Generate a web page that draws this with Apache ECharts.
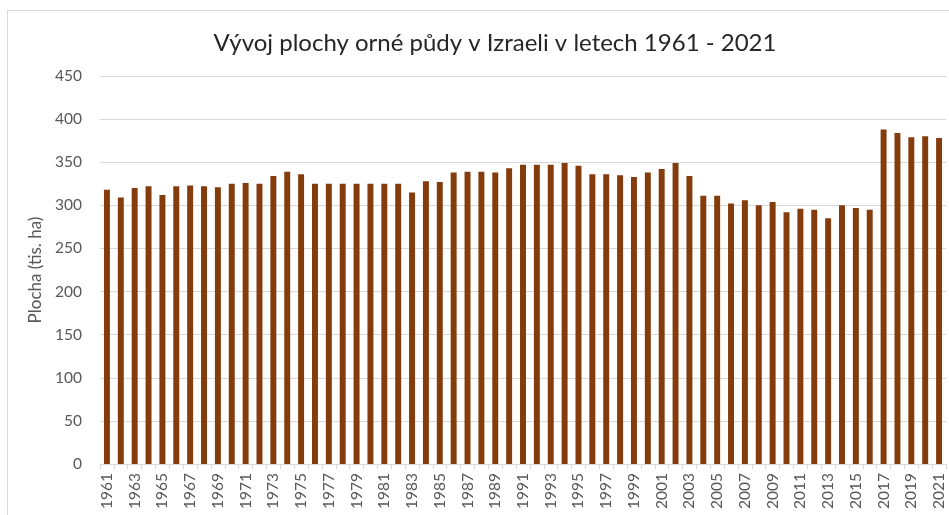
<!DOCTYPE html>
<html>
<head>
<meta charset="utf-8">
<script src="https://cdn.jsdelivr.net/npm/echarts@6/dist/echarts.min.js"></script>
<style>
  html, body { margin: 0; padding: 0; background: #fff; }
  #chart { width: 949px; height: 515px; }
</style>
</head>
<body>
<div id="chart"></div>
<script>
// roky 1961 - 2021
const years = []
for (let y = 1961; y <= 2021; y++) years.push(String(y))

// plocha orné půdy (tis. ha)
const area = [
  318, 309, 320, 322, 312, 322, 323, 322, 321, 325,
  326, 325, 334, 339, 336, 325, 325, 325, 325, 325,
  325, 325, 315, 328, 327, 338, 339, 339, 338, 343,
  347, 347, 347, 349, 346, 336, 336, 335, 333, 338,
  342, 349, 334, 311, 311, 302, 306, 300, 304, 292,
  296, 295, 285, 300, 297, 295, 388, 384, 379, 380,
  378
]

const yTicks = [0, 50, 100, 150, 200, 250, 300, 350, 400, 450]

const font = 'Lato, "Open Sans", sans-serif'
const chart = echarts.init(document.getElementById('chart'))

chart.setOption({
  animation: false,
  backgroundColor: '#fff',
  textStyle: { fontFamily: font },
  title: {
    text: 'Vývoj plochy orné půdy v Izraeli v letech 1961 - 2021',
    left: 490,
    textAlign: 'center',
    top: 26,
    textStyle: { fontFamily: font, fontSize: 24, fontWeight: 'normal', color: '#262626' }
  },
  graphic: [{
    type: 'rect',
    shape: { x: 7.5, y: 10.5, width: 960, height: 520 },
    style: { fill: 'none', stroke: '#d9d9d9', lineWidth: 1 },
    silent: true
  }],
  grid: { left: 100, right: 3, top: 76, bottom: 51 },
  xAxis: {
    type: 'category',
    data: years,
    axisLine: { lineStyle: { color: '#d9d9d9' } },
    axisTick: { show: true, alignWithLabel: false, interval: 0, length: 5, lineStyle: { color: '#d9d9d9' } },
    axisLabel: { interval: 1, rotate: 90, color: '#595959', fontSize: 15.5, fontFamily: font, margin: 9 }
  },
  yAxis: {
    type: 'value',
    min: yTicks[0],
    max: yTicks[yTicks.length - 1],
    interval: 50,
    name: 'Plocha (tis. ha)',
    nameLocation: 'middle',
    nameGap: 55,
    nameTextStyle: { color: '#595959', fontSize: 17, fontFamily: font },
    axisLine: { show: false },
    axisTick: { show: false },
    axisLabel: { color: '#595959', fontSize: 15.5, fontFamily: font, margin: 18 },
    splitLine: { lineStyle: { color: '#d9d9d9' } }
  },
  series: [{
    type: 'bar',
    data: area,
    barWidth: '43%',
    itemStyle: { color: '#843C0C' }
  }]
})
</script>
</body>
</html>
